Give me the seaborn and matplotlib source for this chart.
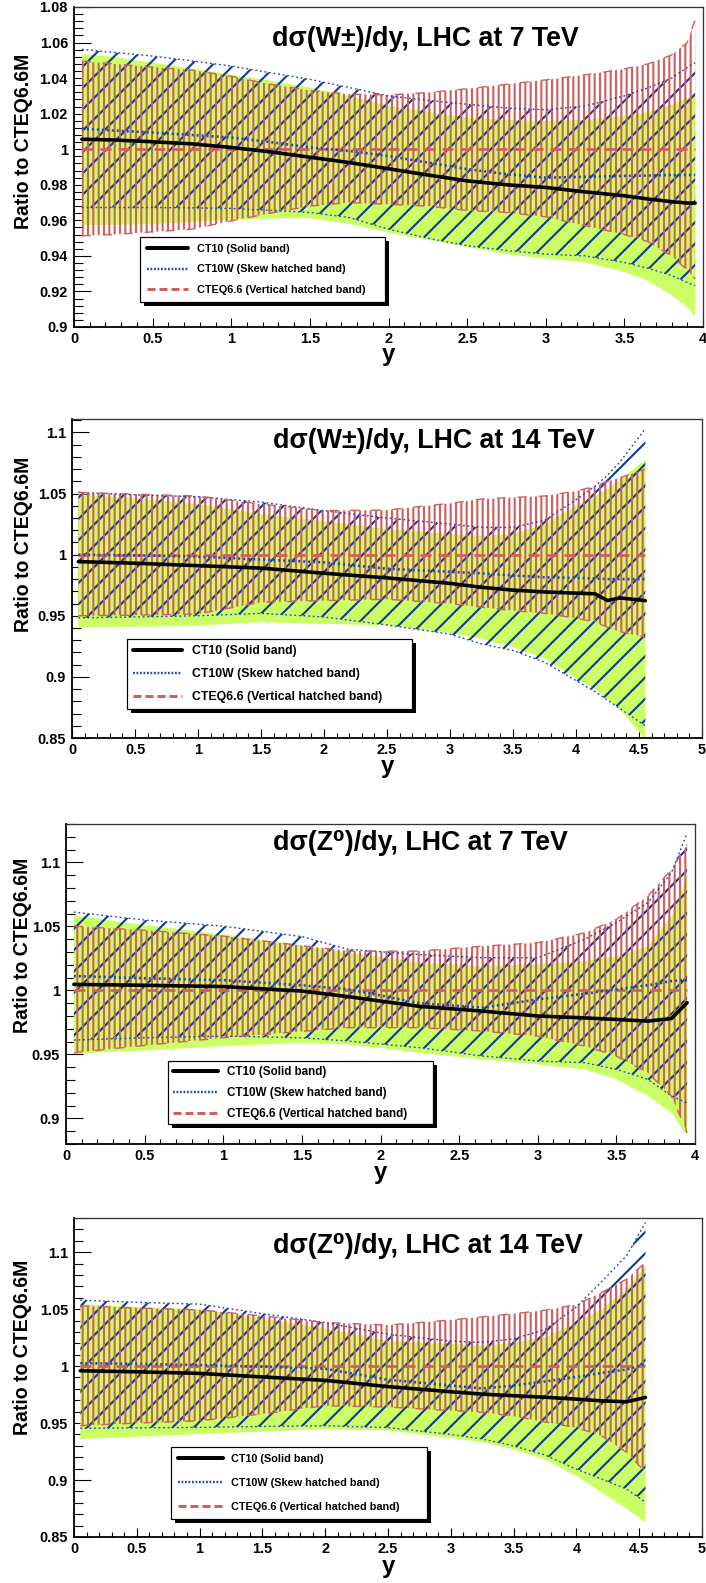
import numpy as np
import matplotlib
matplotlib.use("Agg")
import matplotlib.pyplot as plt
import matplotlib.patches as mpatches
import matplotlib.transforms as mtransforms
from matplotlib.lines import Line2D
from matplotlib.ticker import MultipleLocator, FuncFormatter
import seaborn as sns

# ------------------------------------------------------------------ data
# Panel 1 : dsigma(W+-)/dy, LHC 7 TeV
W7_Y = [0.05, 0.25, 0.5, 0.75, 1.0, 1.25, 1.5, 1.75, 2.0, 2.25, 2.5, 2.75, 3.0, 3.25, 3.5, 3.65, 3.8, 3.9, 3.95]
W7_CT10 = [1.0056, 1.0052, 1.0042, 1.0030, 1.0010, 0.9985, 0.9955, 0.9925, 0.9890, 0.9855, 0.9822, 0.9800, 0.9785, 0.9760, 0.9738, 0.9720, 0.9705, 0.9697, 0.9697]
W7_CT10_HI = [1.0534, 1.0520, 1.0487, 1.0455, 1.0420, 1.0385, 1.0347, 1.0300, 1.0245, 1.0210, 1.0178, 1.0165, 1.0159, 1.0165, 1.0187, 1.0210, 1.0250, 1.0290, 1.0310]
W7_CT10_LO = [0.9573, 0.9575, 0.9578, 0.9590, 0.9603, 0.9610, 0.9612, 0.9580, 0.9530, 0.9490, 0.9450, 0.9410, 0.9385, 0.9363, 0.9310, 0.9260, 0.9180, 0.9110, 0.9060]
W7_CT10W = [1.0116, 1.0105, 1.0094, 1.0080, 1.0066, 1.0040, 1.0010, 0.9990, 0.9962, 0.9925, 0.9888, 0.9860, 0.9840, 0.9845, 0.9850, 0.9852, 0.9855, 0.9855, 0.9855]
W7_CT10W_HI = [1.0562, 1.0545, 1.0524, 1.0497, 1.0468, 1.0430, 1.0393, 1.0347, 1.0300, 1.0275, 1.0253, 1.0232, 1.0222, 1.0243, 1.0300, 1.0345, 1.0400, 1.0460, 1.0487]
W7_CT10W_LO = [0.9672, 0.9672, 0.9672, 0.9670, 0.9667, 0.9656, 0.9644, 0.9616, 0.9550, 0.9500, 0.9457, 0.9430, 0.9410, 0.9400, 0.9363, 0.9330, 0.9290, 0.9250, 0.9232]
W7_CTEQ_HI = [1.0496, 1.0480, 1.0462, 1.0445, 1.0410, 1.0365, 1.0330, 1.0310, 1.0305, 1.0319, 1.0340, 1.0365, 1.0390, 1.0418, 1.0452, 1.0480, 1.0530, 1.0600, 1.0730]
W7_CTEQ_LO = [0.9513, 0.9520, 0.9535, 0.9550, 0.9597, 0.9640, 0.9680, 0.9700, 0.9690, 0.9680, 0.9655, 0.9644, 0.9620, 0.9570, 0.9520, 0.9480, 0.9400, 0.9320, 0.9270]
W7_CTEQ_X = [0.05, 3.95]
W7_CTEQ = [1.0, 1.0]

# Panel 2 : dsigma(W+-)/dy, LHC 14 TeV
W14_Y = [0.05, 0.5, 1.0, 1.5, 2.0, 2.5, 3.0, 3.25, 3.5, 3.75, 4.0, 4.15, 4.25, 4.35, 4.55]
W14_CT10 = [0.9943, 0.9930, 0.9910, 0.9890, 0.9848, 0.9810, 0.9765, 0.9733, 0.9710, 0.9695, 0.9685, 0.9680, 0.9625, 0.9646, 0.9624]
W14_CT10_HI = [1.0496, 1.0460, 1.0414, 1.0333, 1.0275, 1.0210, 1.0170, 1.0155, 1.0169, 1.0250, 1.0400, 1.0480, 1.0540, 1.0610, 1.0780]
W14_CT10_LO = [0.9406, 0.9410, 0.9420, 0.9447, 0.9434, 0.9420, 0.9360, 0.9310, 0.9243, 0.9150, 0.8990, 0.8900, 0.8820, 0.8730, 0.8490]
W14_CT10W = [1.0000, 0.9995, 0.9984, 0.9960, 0.9937, 0.9885, 0.9860, 0.9847, 0.9830, 0.9815, 0.9810, 0.9805, 0.9800, 0.9800, 0.9800]
W14_CT10W_HI = [1.0509, 1.0490, 1.0474, 1.0430, 1.0360, 1.0300, 1.0250, 1.0223, 1.0223, 1.0280, 1.0450, 1.0560, 1.0650, 1.0760, 1.1030]
W14_CT10W_LO = [0.9483, 0.9490, 0.9500, 0.9520, 0.9490, 0.9425, 0.9350, 0.9270, 0.9216, 0.9120, 0.8970, 0.8880, 0.8810, 0.8740, 0.8600]
W14_CTEQ_HI = [1.0510, 1.0495, 1.0480, 1.0414, 1.0360, 1.0365, 1.0420, 1.0455, 1.0468, 1.0480, 1.0520, 1.0560, 1.0600, 1.0630, 1.0700]
W14_CTEQ_LO = [0.9500, 0.9505, 0.9515, 0.9610, 0.9624, 0.9635, 0.9600, 0.9570, 0.9542, 0.9520, 0.9480, 0.9450, 0.9406, 0.9370, 0.9324]
W14_CTEQ_X = [0.05, 4.55]
W14_CTEQ = [1.0, 1.0]

# Panel 3 : dsigma(Z0)/dy, LHC 7 TeV
Z7_Y = [0.05, 0.5, 1.0, 1.5, 1.8, 2.25, 2.65, 3.0, 3.3, 3.5, 3.7, 3.85, 3.95]
Z7_CT10 = [1.0047, 1.0040, 1.0030, 0.9995, 0.9950, 0.9875, 0.9838, 0.9800, 0.9785, 0.9773, 0.9760, 0.9780, 0.9904]
Z7_CT10_HI = [1.0586, 1.0510, 1.0437, 1.0350, 1.0294, 1.0216, 1.0190, 1.0203, 1.0229, 1.0268, 1.0346, 1.0580, 1.0893]
Z7_CT10_LO = [0.9505, 0.9530, 0.9565, 0.9590, 0.9578, 0.9513, 0.9461, 0.9422, 0.9383, 0.9305, 0.9175, 0.9045, 0.8862]
Z7_CT10W = [1.0112, 1.0095, 1.0080, 1.0040, 1.0008, 0.9900, 0.9865, 0.9930, 0.9975, 1.0008, 1.0040, 1.0073, 1.0080]
Z7_CT10W_HI = [1.0612, 1.0550, 1.0502, 1.0420, 1.0320, 1.0280, 1.0255, 1.0255, 1.0400, 1.0530, 1.0685, 1.0920, 1.1230]
Z7_CT10W_LO = [0.9612, 0.9630, 0.9643, 0.9630, 0.9604, 0.9552, 0.9487, 0.9448, 0.9435, 0.9383, 0.9305, 0.9175, 0.9120]
Z7_CTEQ_HI = [1.0502, 1.0470, 1.0424, 1.0350, 1.0307, 1.0307, 1.0346, 1.0372, 1.0450, 1.0555, 1.0737, 1.0945, 1.1140]
Z7_CTEQ_LO = [0.9513, 0.9570, 0.9630, 0.9680, 0.9709, 0.9709, 0.9682, 0.9643, 0.9565, 0.9487, 0.9357, 0.9175, 0.8888]
Z7_CTEQ_X = [0.05, 3.95]
Z7_CTEQ = [1.0, 1.0]

# Panel 4 : dsigma(Z0)/dy, LHC 14 TeV
Z14_Y = [0.05, 0.5, 1.0, 1.5, 2.0, 2.5, 3.0, 3.25, 3.5, 3.75, 4.0, 4.2, 4.4, 4.55]
Z14_CT10 = [0.9959, 0.9950, 0.9936, 0.9905, 0.9875, 0.9820, 0.9775, 0.9754, 0.9740, 0.9727, 0.9710, 0.9695, 0.9687, 0.9725]
Z14_CT10_HI = [1.0544, 1.0520, 1.0500, 1.0420, 1.0330, 1.0220, 1.0195, 1.0178, 1.0205, 1.0255, 1.0380, 1.0500, 1.0675, 1.0880]
Z14_CT10_LO = [0.9360, 0.9380, 0.9404, 0.9425, 0.9447, 0.9435, 0.9370, 0.9331, 0.9270, 0.9180, 0.9035, 0.8892, 0.8746, 0.8629]
Z14_CT10W = [1.0026, 1.0020, 1.0009, 0.9995, 0.9977, 0.9880, 0.9830, 0.9804, 0.9830, 0.9865, 0.9905, 0.9940, 0.9970, 1.0018]
Z14_CT10W_HI = [1.0579, 1.0560, 1.0544, 1.0460, 1.0383, 1.0280, 1.0220, 1.0208, 1.0240, 1.0320, 1.0520, 1.0740, 1.0970, 1.1260]
Z14_CT10W_LO = [0.9454, 0.9458, 0.9462, 0.9470, 0.9477, 0.9460, 0.9400, 0.9360, 0.9300, 0.9220, 0.9095, 0.9009, 0.8921, 0.8805]
Z14_CTEQ_HI = [1.0529, 1.0510, 1.0494, 1.0440, 1.0383, 1.0360, 1.0405, 1.0432, 1.0460, 1.0490, 1.0540, 1.0646, 1.0763, 1.0910]
Z14_CTEQ_LO = [0.9477, 0.9500, 0.9520, 0.9580, 0.9652, 0.9640, 0.9610, 0.9594, 0.9560, 0.9510, 0.9460, 0.9389, 0.9243, 0.9068]
Z14_CTEQ_X = [0.05, 4.55]
Z14_CTEQ = [1.0, 1.0]

TITLES = ["dσ(W±)/dy, LHC at 7 TeV", "dσ(W±)/dy, LHC at 14 TeV",
          "dσ(Z⁰)/dy, LHC at 7 TeV", "dσ(Z⁰)/dy, LHC at 14 TeV"]
LEGEND_LABELS = ["CT10 (Solid band)", "CT10W (Skew hatched band)", "CTEQ6.6 (Vertical hatched band)"]
X_LABEL = "y"
Y_LABEL = "Ratio to CTEQ6.6M"

# ------------------------------------------------------------------ style
DPI = 64
W_PX, H_PX = 706, 1583
PT = 72.0 / DPI           # points per pixel

GREEN = "#ccff66"
BLUE = "#1b46b4"
BLUE_H = "#0f3a9c"
RED = "#d06060"

sns.set_theme(style="ticks")
plt.rcParams.update({
    "font.family": ["Liberation Sans", "DejaVu Sans"],
    "font.weight": "bold",
    "axes.labelweight": "bold",
    "axes.edgecolor": "black",
    "axes.labelcolor": "black",
    "text.color": "black",
    "xtick.color": "black",
    "ytick.color": "black",
    "hatch.linewidth": 2.1 * PT,
    "lines.scale_dashes": False,
    "axes.facecolor": "white",
    "figure.facecolor": "white",
})

PANELS = [
    dict(x=W7_Y, c10=W7_CT10, c10hi=W7_CT10_HI, c10lo=W7_CT10_LO,
         cw=W7_CT10W, cwhi=W7_CT10W_HI, cwlo=W7_CT10W_LO,
         cqx=W7_CTEQ_X, cq=W7_CTEQ, cqhi=W7_CTEQ_HI, cqlo=W7_CTEQ_LO,
         box=(74, 7, 703, 327), xlim=(0, 4), ylim=(0.9, 1.08), ymaj=0.02, ymin=0.004,
         title=TITLES[0], title_xy=(272, 46),
         leg=(140, 237, 385, 310), leg_fs=10.9, leg_hl=41, leg_pitch=23,
         ylab=(24, 141.5), xlab=355),
    dict(x=W14_Y, c10=W14_CT10, c10hi=W14_CT10_HI, c10lo=W14_CT10_LO,
         cw=W14_CT10W, cwhi=W14_CT10W_HI, cwlo=W14_CT10W_LO,
         cqx=W14_CTEQ_X, cq=W14_CTEQ, cqhi=W14_CTEQ_HI, cqlo=W14_CTEQ_LO,
         box=(72, 419, 702, 738), xlim=(0, 5), ylim=(0.85, 1.111), ymaj=0.05, ymin=0.01,
         title=TITLES[1], title_xy=(273, 448),
         leg=(127, 639, 412, 716), leg_fs=12.2, leg_hl=49, leg_pitch=25,
         ylab=(23.5, 544.5), xlab=767),
    dict(x=Z7_Y, c10=Z7_CT10, c10hi=Z7_CT10_HI, c10lo=Z7_CT10_LO,
         cw=Z7_CT10W, cwhi=Z7_CT10W_HI, cwlo=Z7_CT10W_LO,
         cqx=Z7_CTEQ_X, cq=Z7_CTEQ, cqhi=Z7_CTEQ_HI, cqlo=Z7_CTEQ_LO,
         box=(66, 824, 695, 1144), xlim=(0, 4), ylim=(0.88, 1.13), ymaj=0.05, ymin=0.01,
         title=TITLES[2], title_xy=(273, 850),
         leg=(168, 1061, 433, 1129), leg_fs=11.6, leg_hl=45, leg_pitch=22.5,
         ylab=(23, 945.5), xlab=1173),
    dict(x=Z14_Y, c10=Z14_CT10, c10hi=Z14_CT10_HI, c10lo=Z14_CT10_LO,
         cw=Z14_CT10W, cwhi=Z14_CT10W_HI, cwlo=Z14_CT10W_LO,
         cqx=Z14_CTEQ_X, cq=Z14_CTEQ, cqhi=Z14_CTEQ_HI, cqlo=Z14_CTEQ_LO,
         box=(74, 1218, 702, 1537), xlim=(0, 5), ylim=(0.85, 1.13), ymaj=0.05, ymin=0.01,
         title=TITLES[3], title_xy=(273, 1253),
         leg=(171, 1447, 427, 1527), leg_fs=10.9, leg_hl=45, leg_pitch=27,
         ylab=(23, 1347.5), xlab=1567),
]

TICK_FS = 14.5 * PT
TITLE_FS = 26.8 * PT
YLAB_FS = 19.5 * PT
XLAB_FS = 24.0 * PT


def fmt_num(v, pos=None):
    s = ("%.3f" % v).rstrip("0").rstrip(".")
    return "0" if s in ("-0", "") else s


def dash(*px):
    return (0, tuple(p * PT for p in px))


fig = plt.figure(figsize=(W_PX / DPI, H_PX / DPI), dpi=DPI)

legends = []
for P in PANELS:
    l, t, r, b = P["box"]
    wpx, hpx = r - l, b - t
    ax = fig.add_axes([l / W_PX, 1 - b / H_PX, wpx / W_PX, hpx / H_PX])
    x = np.asarray(P["x"], dtype=float)

    # bands
    ax.fill_between(x, P["c10lo"], P["c10hi"], facecolor=GREEN, edgecolor="none",
                    linewidth=0, zorder=1)
    ax.fill_between(x, P["cwlo"], P["cwhi"], facecolor="none", edgecolor=BLUE_H,
                    hatch="/", linewidth=0, zorder=2)
    ax.fill_between(x, P["cqlo"], P["cqhi"], facecolor="none", edgecolor=RED,
                    hatch="||", linewidth=0, zorder=3)

    # band boundaries
    for key in ("cwlo", "cwhi"):
        sns.lineplot(x=x, y=np.asarray(P[key]), ax=ax, color=BLUE, linewidth=1.4 * PT,
                     estimator=None, sort=False, legend=False, zorder=4)
        ax.lines[-1].set_linestyle(dash(1.8, 2.8))
    for key in ("cqlo", "cqhi"):
        sns.lineplot(x=x, y=np.asarray(P[key]), ax=ax, color=RED, linewidth=1.4 * PT,
                     estimator=None, sort=False, legend=False, zorder=4)
        ax.lines[-1].set_linestyle(dash(9, 12))

    # central values
    sns.lineplot(x=np.asarray(P["cqx"]), y=np.asarray(P["cq"]), ax=ax, color=RED,
                 linewidth=2.8 * PT, estimator=None, sort=False, legend=False, zorder=5)
    ax.lines[-1].set_linestyle(dash(11, 7))
    sns.lineplot(x=x, y=np.asarray(P["cw"]), ax=ax, color=BLUE, linewidth=2.6 * PT,
                 estimator=None, sort=False, legend=False, zorder=6)
    ax.lines[-1].set_linestyle(dash(2, 3))
    sns.lineplot(x=x, y=np.asarray(P["c10"]), ax=ax, color="black", linewidth=3.6 * PT,
                 estimator=None, sort=False, legend=False, zorder=7)

    # axes
    ax.set_xlim(*P["xlim"])
    ax.set_ylim(*P["ylim"])
    ax.xaxis.set_major_locator(MultipleLocator(0.5))
    ax.xaxis.set_minor_locator(MultipleLocator(0.1))
    ax.yaxis.set_major_locator(MultipleLocator(P["ymaj"]))
    ax.yaxis.set_minor_locator(MultipleLocator(P["ymin"]))
    ax.xaxis.set_major_formatter(FuncFormatter(fmt_num))
    ax.yaxis.set_major_formatter(FuncFormatter(fmt_num))
    ax.tick_params(axis="y", which="major", direction="in", length=17 * PT, width=1.1 * PT,
                   left=True, right=False, labelsize=TICK_FS, pad=6 * PT)
    ax.tick_params(axis="y", which="minor", direction="in", length=9 * PT, width=1.1 * PT,
                   left=True, right=False)
    ax.tick_params(axis="x", which="major", direction="in", length=9 * PT, width=1.1 * PT,
                   bottom=True, top=False, labelsize=TICK_FS, pad=5 * PT)
    ax.tick_params(axis="x", which="minor", direction="in", length=5 * PT, width=1.1 * PT,
                   bottom=True, top=False)
    for side in ("left", "bottom"):
        ax.spines[side].set_linewidth(1.8 * PT)
        ax.spines[side].set_color("black")
    for side in ("top", "right"):
        ax.spines[side].set_linewidth(1.3 * PT)
        ax.spines[side].set_color("#333333")
    for lab in ax.get_xticklabels() + ax.get_yticklabels():
        lab.set_fontweight("bold")

    # axis titles
    ax.set_xlabel(X_LABEL, fontsize=XLAB_FS, fontweight="bold", va="center", ha="center")
    ax.xaxis.set_label_coords(0.5, (b - P["xlab"]) / hpx)
    ax.set_ylabel(Y_LABEL, fontsize=YLAB_FS, fontweight="bold", va="center", ha="center")
    ax.yaxis.set_label_coords((P["ylab"][0] - l) / wpx, (b - P["ylab"][1]) / hpx)

    # plot title
    tx, ty = P["title_xy"]
    fig.text(tx / W_PX, 1 - ty / H_PX, P["title"], fontsize=TITLE_FS, fontweight="bold",
             ha="left", va="baseline", family=["Liberation Sans", "DejaVu Sans"])

    # legend
    lx0, ly0, lx1, ly1 = P["leg"]
    fs = P["leg_fs"]
    th = 1.17 * fs
    pitch = P["leg_pitch"]
    H = ly1 - ly0
    ls = (pitch - th) / fs
    bp = max((H - th - 2 * pitch) / (2 * fs), 0.2)
    handles = [
        Line2D([], [], color="black", linewidth=4.0 * PT),
        Line2D([], [], color=BLUE, linewidth=2.4 * PT, linestyle=dash(1.8, 1.7)),
        Line2D([], [], color=RED, linewidth=3.0 * PT, linestyle=dash(8, 4)),
    ]
    leg = ax.legend(handles, LEGEND_LABELS, loc="upper left",
                    bbox_to_anchor=((lx0 - l) / wpx, (b - ly0) / hpx, (lx1 - lx0) / wpx, 0),
                    mode="expand", borderaxespad=0, fontsize=fs * PT,
                    frameon=True, fancybox=False, framealpha=1, edgecolor="black",
                    handlelength=P["leg_hl"] / fs, handletextpad=0.8,
                    borderpad=bp, labelspacing=ls, prop={"weight": "bold", "size": fs * PT})
    leg.get_frame().set_linewidth(1.2 * PT)
    leg.set_zorder(10)
    legends.append((ax, leg))

# black drop shadows of the legend boxes (ROOT style)
fig.canvas.draw()
for ax, leg in legends:
    bb = leg.get_window_extent()
    shadow = mpatches.Rectangle((bb.x0 + 4, bb.y0 - 4), bb.width, bb.height,
                                transform=mtransforms.IdentityTransform(),
                                facecolor="black", edgecolor="none", zorder=9.9,
                                clip_on=False)
    ax.add_artist(shadow)

fig.savefig("out.png", dpi=DPI, facecolor="white")
